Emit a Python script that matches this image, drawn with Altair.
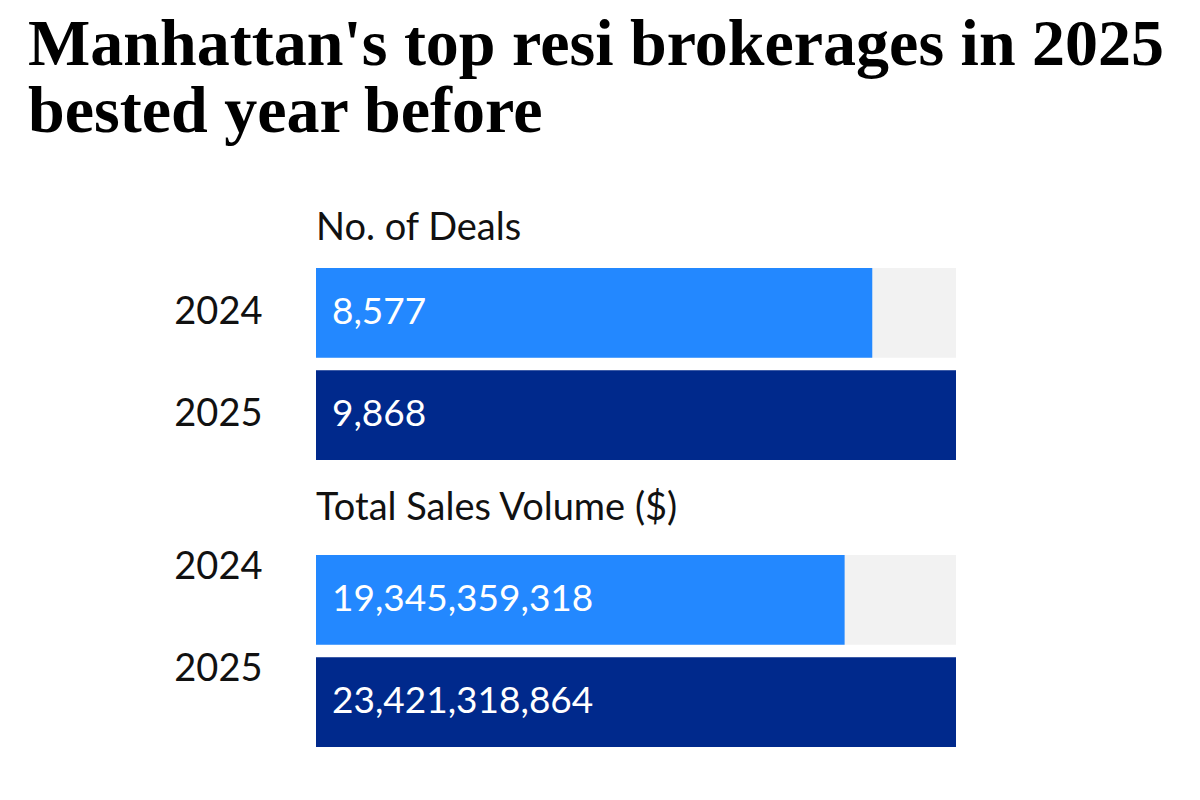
import altair as alt
import pandas as pd

years = ["2024", "2025"]
deals = [8577, 9868]
volume = [19345359318, 23421318864]
bar_colors = ["#2388FF", "#00298C"]
subtitles = ["No. of Deals", "Total Sales Volume ($)"]
title_lines = ["Manhattan's top resi brokerages in 2025", "bested year before"]

SANS = "Lato"


def panel(values, subtitle, label_offset):
    df = pd.DataFrame({"year": years, "value": values})
    base = alt.Chart(df).transform_joinaggregate(maxv="max(value)")
    xscale = alt.Scale(domain=[0, max(values)], nice=False, zero=True)
    y = alt.Y(
        "year:N",
        sort=years,
        title=None,
        scale=alt.Scale(paddingInner=0.12, paddingOuter=0),
        axis=alt.Axis(
            domain=False,
            ticks=False,
            labelFontSize=38,
            labelFont=SANS,
            labelColor="#111111",
            labelPadding=54,
            labelOffset=label_offset,
            minExtent=288,
        ),
    )
    bg = base.mark_bar(color="#F2F2F2").encode(
        x=alt.X("maxv:Q", scale=xscale, axis=None), y=y
    )
    fg = base.mark_bar().encode(
        x=alt.X("value:Q", scale=xscale, axis=None),
        y=y,
        color=alt.Color(
            "year:N", scale=alt.Scale(domain=years, range=bar_colors), legend=None
        ),
    )
    txt = base.mark_text(
        align="left", dx=16, color="white", fontSize=37, font=SANS
    ).encode(x=alt.value(0), y=y, text=alt.Text("value:Q", format=","))
    return alt.layer(bg, fg, txt).properties(
        width=640,
        height=192,
        title=alt.TitleParams(
            subtitle,
            anchor="start",
            frame="group",
            fontSize=38,
            font=SANS,
            fontWeight="normal",
            color="#111111",
            offset=20,
        ),
    )


p1 = panel(deals, subtitles[0], 0)
p2 = panel(volume, subtitles[1], -32)

chart = (
    alt.vconcat(p1, p2, spacing=29)
    .properties(
        title=alt.TitleParams(
            title_lines,
            anchor="start",
            font="Liberation Serif",
            fontSize=66,
            fontWeight="bold",
            color="#000000",
            lineHeight=67,
            offset=64,
        ),
        background="white",
        padding={"left": 28, "top": 12, "right": 8, "bottom": 20},
    )
    .configure_view(stroke=None)
)

chart.save("out.html", embed_options={"renderer": "svg", "actions": False})
